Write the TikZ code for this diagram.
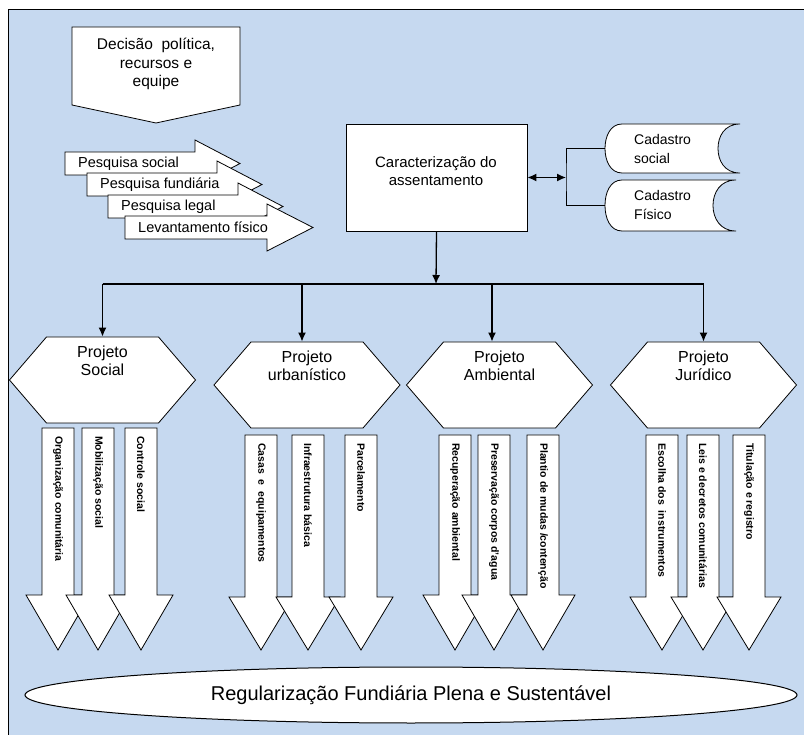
\documentclass[tikz,border=0pt]{standalone}
\usepackage{fontspec}
\setmainfont{Liberation Sans}
\usetikzlibrary{shapes.symbols,shapes.geometric,arrows.meta}

\definecolor{fundo}{RGB}{198,217,240}

\tikzset{
  forma/.style={draw=black, fill=white, line width=0.8pt},
  seta/.style={line width=1.3pt, -{Latex[length=9pt,width=8pt]}},
  hexa/.style={forma, signal, signal to=west and east, signal pointer angle=98.6,
    minimum width=186pt, minimum height=86pt, inner sep=0pt},
  projtxt/.style={align=center, anchor=north, font=\fontsize{16}{18}\selectfont},
  pesqtxt/.style={anchor=west, inner sep=0pt, font=\fontsize{14.5}{16}\selectfont},
  acaotxt/.style={rotate=-90, anchor=west, inner sep=0pt,
    font=\fontsize{10.5}{12}\selectfont\bfseries},
  cadtxt/.style={anchor=west, align=left, inner sep=0pt,
    font=\fontsize{14}{19}\selectfont}
}

\begin{document}
\begin{tikzpicture}[x=1pt,y=-1pt]
\useasboundingbox (0,0) rectangle (804,735);
\fill[fundo] (8,10) rectangle (804,735);
\draw[line width=1pt] (804,10) -- (8,10) -- (8,735);

% decisao politica
\draw[forma] (72,27) -- (240,27) -- (240,105) -- (156,123) -- (72,105) -- cycle;
\node[align=center, font=\fontsize{15.5}{18.5}\selectfont] (decisao) at (156,64)
  {Decisão\ \ política,\\recursos e\\equipe};

% pesquisas
\foreach \bx/\by/\cx/\hy/\px/\txt [count=\i] in
  {65/152/195/140/240/Pesquisa social,
   87/173/217/161/262/Pesquisa fundiária,
   108/195/238/183/283/Pesquisa legal,
   125/216/267/204/313/Levantamento físico}
{
  \draw[forma] (\bx,\by) -- (\cx,\by) -- (\cx,\hy) -- (\px,\by+11.5)
    -- (\cx,\hy+47) -- (\cx,\by+23) -- (\bx,\by+23) -- cycle;
  \node[pesqtxt] (pesq\i) at (\bx+13,\by+11.5) {\txt};
}

% caracterizacao
\node[forma, minimum width=181pt, minimum height=107pt] (carac) at (436.5,177.5) {};
\node[align=center, font=\fontsize{15}{18}\selectfont] (caractxt) at (436,171)
  {Caracterização do\\assentamento};

% cadastros
\draw[forma] (740,124) -- (622,124) .. controls (610,124) and (605,137) .. (605,148.5)
  .. controls (605,160) and (610,173) .. (622,173) -- (740,173)
  .. controls (724,173) and (718,160) .. (718,148.5)
  .. controls (718,137) and (724,124) .. (740,124);
\draw[forma] (736,180) -- (622,180) .. controls (610,180) and (605,193) .. (605,205.5)
  .. controls (605,218) and (610,231) .. (622,231) -- (736,231)
  .. controls (720,231) and (713,218) .. (713,205.5)
  .. controls (713,193) and (720,180) .. (736,180);
\node[cadtxt] (cadsoc) at (634,148.5) {Cadastro\\social};
\node[cadtxt] (cadfis) at (634,204.5) {Cadastro\\Físico};
\coordinate (cadsocW) at (605,148.5);
\coordinate (cadfisW) at (605,205.5);
\coordinate (junc) at (566,177.5);

\draw[line width=1.3pt, {Latex[length=9pt,width=8pt]}-{Latex[length=9pt,width=8pt]}]
  (carac.east) -- (junc);
\draw[line width=1pt] (cadsocW) -| (junc) |- (cadfisW);

% projetos
\node[hexa] (social) at (102.5,380) {};
\node[hexa] (urb) at (307,385) {};
\node[hexa] (amb) at (499.5,385) {};
\node[hexa] (jur) at (703.5,385) {};
\node[projtxt] (socialtxt) at ([yshift=-6pt]social.north) {Projeto\\Social};
\node[projtxt] (urbtxt) at ([yshift=-6pt]urb.north) {Projeto\\urbanístico};
\node[projtxt] (ambtxt) at ([yshift=-6pt]amb.north) {Projeto\\Ambiental};
\node[projtxt] (jurtxt) at ([yshift=-6pt]jur.north) {Projeto\\Jurídico};

\coordinate (bus) at (436,284);
\coordinate (urbtop) at ([xshift=-5pt]urb.north);
\coordinate (ambtop) at ([xshift=-7.5pt]amb.north);
\draw[seta] (carac.south) -- (bus);
\draw[line width=1.3pt] (social.north |- bus) -- (jur.north |- bus);
\draw[seta] (social.north |- bus) -- (social.north);
\draw[seta] (urbtop |- bus) -- (urbtop);
\draw[seta] (ambtop |- bus) -- (ambtop);
\draw[seta] (jur.north |- bus) -- (jur.north);

% acoes
\foreach \bx/\by/\hy/\txt [count=\i] in
  {42/428/595/{Organização comunitária},
   82/428/595/{Mobilização social},
   125/428/595/{Controle social},
   245/435/597/{Casas\ \ e\ \ equipamentos},
   292/435/597/{Infraestrutura básica},
   345/435/597/{Parcelamento},
   439/435/595/{Recuperação ambiental},
   478/435/595/{Preservação corpos d'agua},
   527/435/595/{Plantio de mudas /contenção},
   646/435/597/{Escolha dos\ \ instrumentos},
   687/435/597/{Leis e decretos comunitárias},
   733/435/597/{Titulação e registro}}
{
  \draw[forma] (\bx,\by) -- (\bx+32,\by) -- (\bx+32,\hy) -- (\bx+48,\hy)
    -- (\bx+16,650) -- (\bx-16,\hy) -- (\bx,\hy) -- cycle;
  \node[acaotxt] (acao\i) at (\bx+16,\by+8) {\txt};
}

% regularizacao
\node[forma, ellipse, line width=1pt, minimum width=772pt, minimum height=56pt,
  font=\fontsize{20}{24}\selectfont] (regular) at (411,695)
  {Regularização Fundiária Plena e Sustentável};
\end{tikzpicture}
\end{document}
